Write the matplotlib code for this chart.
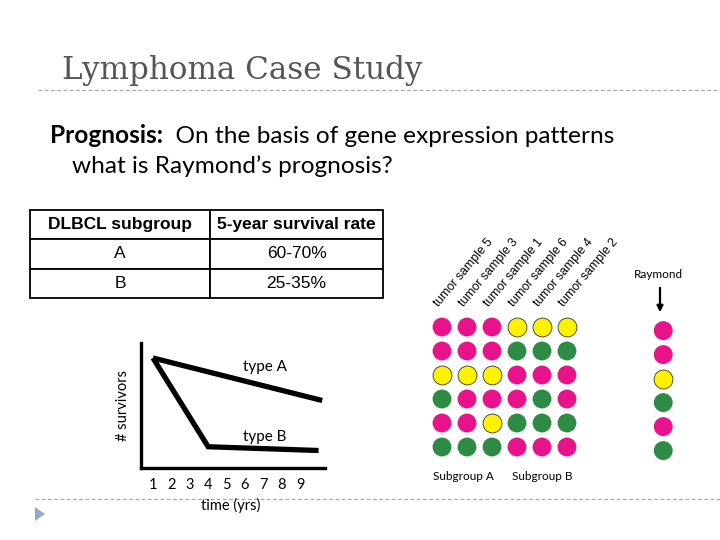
import matplotlib
matplotlib.use("Agg")
import matplotlib.pyplot as plt
from matplotlib.patches import Polygon

# ---------------- data ----------------
title = "Lymphoma Case Study"
table_header = ["DLBCL subgroup", "5-year survival rate"]
table_rows = [["A", "60-70%"], ["B", "25-35%"]]

time_ticks = [1, 2, 3, 4, 5, 6, 7, 8, 9]
typeA_t = [1, 10.2]
typeA_n = [88, 54]
typeB_t = [1, 4, 10.0]
typeB_n = [88, 17, 14]

sample_labels = ["tumor sample 5", "tumor sample 3", "tumor sample 1",
                 "tumor sample 6", "tumor sample 4", "tumor sample 2"]
# expression state per gene (rows) x sample (cols): M=magenta, Y=yellow, G=green
expr_grid = [
    "MMMYYY",
    "MMMGGG",
    "YYYMMM",
    "GMMMGM",
    "MMYGGG",
    "GGGMMM",
]
raymond = "MMYGMG"
group_labels = ["Subgroup A", "Subgroup B"]

palette = {"M": "#e8128a", "Y": "#fff200", "G": "#2e8b45"}

BODY = ["Lato", "DejaVu Sans"]
ARIAL = ["Liberation Sans", "DejaVu Sans"]

fig = plt.figure(figsize=(7.2, 5.4), dpi=100)
W, H = 720, 540


def fbox(x0, y0, x1, y1):
    """pixel box (top-left origin) -> figure fraction rect"""
    return [x0 / W, 1 - y1 / H, (x1 - x0) / W, (y1 - y0) / H]


# ---------------- background / slide text ----------------
bg = fig.add_axes([0, 0, 1, 1])
bg.set_xlim(0, W)
bg.set_ylim(H, 0)
bg.axis("off")

bg.text(62, 79, title, fontsize=22.3, family=["DejaVu Serif"], color="#555555",
        va="baseline", ha="left")
bg.plot([38, 720], [90, 90], ls=(0, (3, 2)), color="#a8a8a8", lw=0.9)
bg.plot([35, 720], [499, 499], ls=(0, (3, 2)), color="#a8a8a8", lw=0.9)
bg.add_patch(Polygon([[35, 507], [35, 521], [45, 514]], closed=True,
                     color="#95a9c6", lw=0))

tb = bg.text(50, 143, "Prognosis:", fontsize=17.6, family=BODY, weight="bold",
             va="baseline", ha="left")
bg.annotate("  On the basis of gene expression patterns", xy=(1, 0),
            xycoords=tb, va="bottom", ha="left", fontsize=17.6, family=BODY)
bg.text(72, 173, "what is Raymond\u2019s prognosis?", fontsize=17.6, family=BODY,
        va="baseline", ha="left")

# ---------------- table ----------------
tax = fig.add_axes(fbox(30, 210, 383, 298))
tax.axis("off")
cells = [table_header] + table_rows
tbl = tax.table(cellText=cells, cellLoc="center", bbox=[0, 0, 1, 1],
                colWidths=[180, 173])
tbl.auto_set_font_size(False)
for (r, c), cell in tbl.get_celld().items():
    cell.set_linewidth(1.3)
    cell.set_edgecolor("black")
    cell.get_text().set_fontsize(12.5)
    cell.get_text().set_family(ARIAL)
    if r == 0:
        cell.get_text().set_weight("bold")

# ---------------- survival curves ----------------
sax = fig.add_axes(fbox(141, 343, 325, 468))
sax.plot(typeA_t, typeA_n, color="black", lw=3.8, solid_capstyle="butt")
sax.plot(typeB_t, typeB_n, color="black", lw=3.8, solid_capstyle="butt",
         solid_joinstyle="miter")
sax.set_xlim(0.35, 10.35)
sax.set_ylim(0, 100)
for s in ["top", "right"]:
    sax.spines[s].set_visible(False)
for s in ["left", "bottom"]:
    sax.spines[s].set_linewidth(2.4)
sax.set_xticks(time_ticks)
sax.set_xticklabels([str(t) for t in time_ticks], family=BODY, fontsize=10.5)
sax.set_yticks([])
sax.tick_params(axis="x", length=0, pad=7)
sax.set_ylabel("# survivors", family=BODY, fontsize=10.5, labelpad=8)
sax.set_xlabel("time (yrs)", family=BODY, fontsize=10.5)
sax.xaxis.set_label_coords(0.49, -0.24)
sax.text(5.9, 81, "type A", family=BODY, fontsize=11, ha="left", va="center")
sax.text(5.9, 25, "type B", family=BODY, fontsize=11, ha="left", va="center")

# ---------------- expression dots ----------------
dax = fig.add_axes(fbox(417, 303, 717, 471))
dax.set_xlim(-1, 11)
dax.set_ylim(6, -1)
dax.axis("off")
raymond_col = 8.85
for r, row in enumerate(expr_grid):
    for c, state in enumerate(row):
        dax.scatter(c, r, s=185, color=palette[state],
                    edgecolors="#333333" if state == "Y" else "none",
                    linewidths=0.6, zorder=3)
for r, state in enumerate(raymond):
    dax.scatter(raymond_col, r + 0.15, s=185, color=palette[state],
                edgecolors="#333333" if state == "Y" else "none",
                linewidths=0.6, zorder=3)

for c, lab in enumerate(sample_labels):
    dax.text(c - 0.15, -0.85, lab, rotation=50, rotation_mode="anchor",
             ha="left", va="baseline", fontsize=8.8, family=ARIAL, clip_on=False)

dax.text(-0.36, 6.25, group_labels[0], family=BODY, fontsize=8.5,
         ha="left", va="center", clip_on=False)
dax.text(2.8, 6.25, group_labels[1], family=BODY, fontsize=8.5,
         ha="left", va="center", clip_on=False)

dax.text(8.64, -2.17, "Raymond", family=BODY, fontsize=8.5, ha="center",
         va="center", clip_on=False)
dax.annotate("", xy=(8.72, -0.5), xytext=(8.72, -1.75),
             arrowprops=dict(arrowstyle="-|>", color="black", lw=1.6,
                             mutation_scale=9),
             annotation_clip=False)

fig.savefig("out.png", dpi=100)
